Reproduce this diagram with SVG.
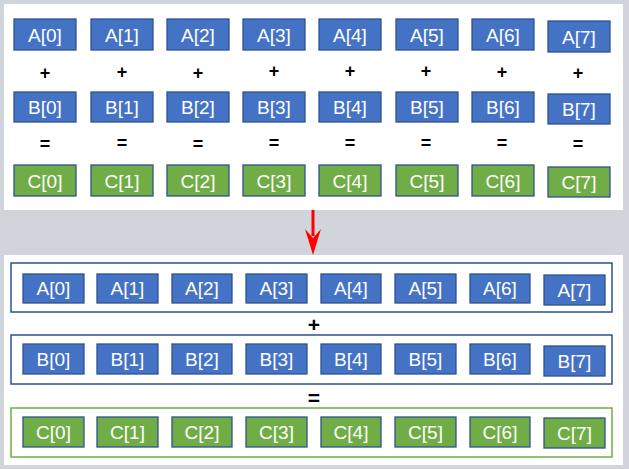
<svg xmlns="http://www.w3.org/2000/svg" width="629" height="469" viewBox="0 0 629 469">
<style>
.panel{fill:#ffffff}
.a{fill:#4472c4;stroke:#2f528f;stroke-width:1.3}
.c{fill:#70ad47;stroke:#2f528f;stroke-width:1.3}
.t{font-family:"Liberation Sans",Arial,sans-serif;font-size:19px;fill:#ffffff;text-anchor:middle;dominant-baseline:central}
.op{font-family:"Liberation Sans",Arial,sans-serif;font-size:18px;font-weight:bold;fill:#000;text-anchor:middle;dominant-baseline:central}
.opb{font-family:"Liberation Sans",Arial,sans-serif;font-size:21px;font-weight:bold;fill:#000;text-anchor:middle;dominant-baseline:central}
.fb{fill:none;stroke:#2f528f;stroke-width:1.5}
.fg{fill:none;stroke:#70ad47;stroke-width:1.5}
</style>
<rect width="629" height="469" fill="#d0d5dc"/>
<rect class="panel" x="4" y="4" width="619" height="206"/>
<rect class="panel" x="4" y="255" width="619" height="210"/>

<g id="top">
<g id="tA0"><rect class="a" x="14" y="19" width="62" height="31"/><text class="t" x="45" y="35">A[0]</text></g>
<g id="tA1"><rect class="a" x="91" y="19" width="62" height="31"/><text class="t" x="122" y="35">A[1]</text></g>
<g id="tA2"><rect class="a" x="167" y="19" width="62" height="31"/><text class="t" x="198" y="35">A[2]</text></g>
<g id="tA3"><rect class="a" x="243" y="19" width="62" height="31"/><text class="t" x="274" y="35">A[3]</text></g>
<g id="tA4"><rect class="a" x="319" y="19" width="62" height="31"/><text class="t" x="350" y="35">A[4]</text></g>
<g id="tA5"><rect class="a" x="396" y="19" width="62" height="31"/><text class="t" x="427" y="35">A[5]</text></g>
<g id="tA6"><rect class="a" x="472" y="19" width="62" height="31"/><text class="t" x="503" y="35">A[6]</text></g>
<g id="tA7"><rect class="a" x="548" y="21" width="62" height="31"/><text class="t" x="579" y="37">A[7]</text></g>

<g id="tP">
<text class="op" x="45" y="73">+</text><text class="op" x="122" y="72">+</text><text class="op" x="198" y="73">+</text><text class="op" x="274" y="71">+</text>
<text class="op" x="350" y="71">+</text><text class="op" x="426" y="71">+</text><text class="op" x="502" y="72">+</text><text class="op" x="578" y="73">+</text>
</g>

<g id="tB0"><rect class="a" x="14" y="92" width="62" height="30"/><text class="t" x="45" y="107">B[0]</text></g>
<g id="tB1"><rect class="a" x="91" y="92" width="62" height="30"/><text class="t" x="122" y="107">B[1]</text></g>
<g id="tB2"><rect class="a" x="167" y="92" width="62" height="30"/><text class="t" x="198" y="107">B[2]</text></g>
<g id="tB3"><rect class="a" x="243" y="92" width="62" height="30"/><text class="t" x="274" y="107">B[3]</text></g>
<g id="tB4"><rect class="a" x="319" y="92" width="62" height="30"/><text class="t" x="350" y="107">B[4]</text></g>
<g id="tB5"><rect class="a" x="396" y="92" width="62" height="30"/><text class="t" x="427" y="107">B[5]</text></g>
<g id="tB6"><rect class="a" x="472" y="92" width="62" height="30"/><text class="t" x="503" y="107">B[6]</text></g>
<g id="tB7"><rect class="a" x="548" y="94" width="62" height="30"/><text class="t" x="579" y="109">B[7]</text></g>

<g id="tE">
<text class="op" x="45" y="144">=</text><text class="op" x="122" y="143">=</text><text class="op" x="198" y="144">=</text><text class="op" x="274" y="143">=</text>
<text class="op" x="350" y="143">=</text><text class="op" x="426" y="143">=</text><text class="op" x="502" y="143">=</text><text class="op" x="578" y="144">=</text>
</g>

<g id="tC0"><rect class="c" x="14" y="165" width="62" height="31"/><text class="t" x="45" y="181">C[0]</text></g>
<g id="tC1"><rect class="c" x="91" y="165" width="62" height="31"/><text class="t" x="122" y="181">C[1]</text></g>
<g id="tC2"><rect class="c" x="167" y="165" width="62" height="31"/><text class="t" x="198" y="181">C[2]</text></g>
<g id="tC3"><rect class="c" x="243" y="165" width="62" height="31"/><text class="t" x="274" y="181">C[3]</text></g>
<g id="tC4"><rect class="c" x="319" y="165" width="62" height="31"/><text class="t" x="350" y="181">C[4]</text></g>
<g id="tC5"><rect class="c" x="396" y="165" width="62" height="31"/><text class="t" x="427" y="181">C[5]</text></g>
<g id="tC6"><rect class="c" x="472" y="165" width="62" height="31"/><text class="t" x="503" y="181">C[6]</text></g>
<g id="tC7"><rect class="c" x="548" y="167" width="62" height="30"/><text class="t" x="579" y="182">C[7]</text></g>
</g>

<g id="connectors">
<rect x="311.5" y="210" width="3" height="26" fill="#ff0000"/>
<path d="M305,229 L313,238 L321,229 L313,255 Z" fill="#ff0000"/>
</g>

<g id="bottom">
<g id="frameA"><rect class="fb" x="11" y="263" width="601" height="49"/>
<g id="bA0"><rect class="a" x="23" y="274" width="61" height="29"/><text class="t" x="53.5" y="288.5">A[0]</text></g>
<g id="bA1"><rect class="a" x="97" y="274" width="61" height="29"/><text class="t" x="127.5" y="288.5">A[1]</text></g>
<g id="bA2"><rect class="a" x="172" y="274" width="60" height="29"/><text class="t" x="202" y="288.5">A[2]</text></g>
<g id="bA3"><rect class="a" x="246" y="274" width="61" height="29"/><text class="t" x="276.5" y="288.5">A[3]</text></g>
<g id="bA4"><rect class="a" x="321" y="274" width="60" height="29"/><text class="t" x="351" y="288.5">A[4]</text></g>
<g id="bA5"><rect class="a" x="395" y="274" width="61" height="29"/><text class="t" x="425.5" y="288.5">A[5]</text></g>
<g id="bA6"><rect class="a" x="470" y="274" width="60" height="29"/><text class="t" x="500" y="288.5">A[6]</text></g>
<g id="bA7"><rect class="a" x="544" y="275" width="61" height="30"/><text class="t" x="574.5" y="290">A[7]</text></g>
</g>
<text class="opb" x="314" y="324">+</text>
<g id="frameB"><rect class="fb" x="11" y="335" width="601" height="49"/>
<g id="bB0"><rect class="a" x="23" y="344" width="61" height="30"/><text class="t" x="53.5" y="359">B[0]</text></g>
<g id="bB1"><rect class="a" x="97" y="344" width="61" height="30"/><text class="t" x="127.5" y="359">B[1]</text></g>
<g id="bB2"><rect class="a" x="172" y="344" width="60" height="30"/><text class="t" x="202" y="359">B[2]</text></g>
<g id="bB3"><rect class="a" x="246" y="344" width="61" height="30"/><text class="t" x="276.5" y="359">B[3]</text></g>
<g id="bB4"><rect class="a" x="321" y="344" width="60" height="30"/><text class="t" x="351" y="359">B[4]</text></g>
<g id="bB5"><rect class="a" x="395" y="344" width="61" height="30"/><text class="t" x="425.5" y="359">B[5]</text></g>
<g id="bB6"><rect class="a" x="470" y="344" width="60" height="30"/><text class="t" x="500" y="359">B[6]</text></g>
<g id="bB7"><rect class="a" x="544" y="346" width="61" height="30"/><text class="t" x="574.5" y="361">B[7]</text></g>
</g>
<text class="opb" x="314" y="397">=</text>
<g id="frameC"><rect class="fg" x="11" y="408" width="601" height="49"/>
<g id="bC0"><rect class="c" x="23" y="417" width="61" height="30"/><text class="t" x="53.5" y="432">C[0]</text></g>
<g id="bC1"><rect class="c" x="97" y="417" width="61" height="30"/><text class="t" x="127.5" y="432">C[1]</text></g>
<g id="bC2"><rect class="c" x="172" y="417" width="60" height="30"/><text class="t" x="202" y="432">C[2]</text></g>
<g id="bC3"><rect class="c" x="246" y="417" width="61" height="30"/><text class="t" x="276.5" y="432">C[3]</text></g>
<g id="bC4"><rect class="c" x="321" y="417" width="60" height="30"/><text class="t" x="351" y="432">C[4]</text></g>
<g id="bC5"><rect class="c" x="395" y="417" width="61" height="30"/><text class="t" x="425.5" y="432">C[5]</text></g>
<g id="bC6"><rect class="c" x="470" y="417" width="60" height="30"/><text class="t" x="500" y="432">C[6]</text></g>
<g id="bC7"><rect class="c" x="544" y="418" width="61" height="30"/><text class="t" x="574.5" y="433">C[7]</text></g>
</g>
</g>
</svg>
